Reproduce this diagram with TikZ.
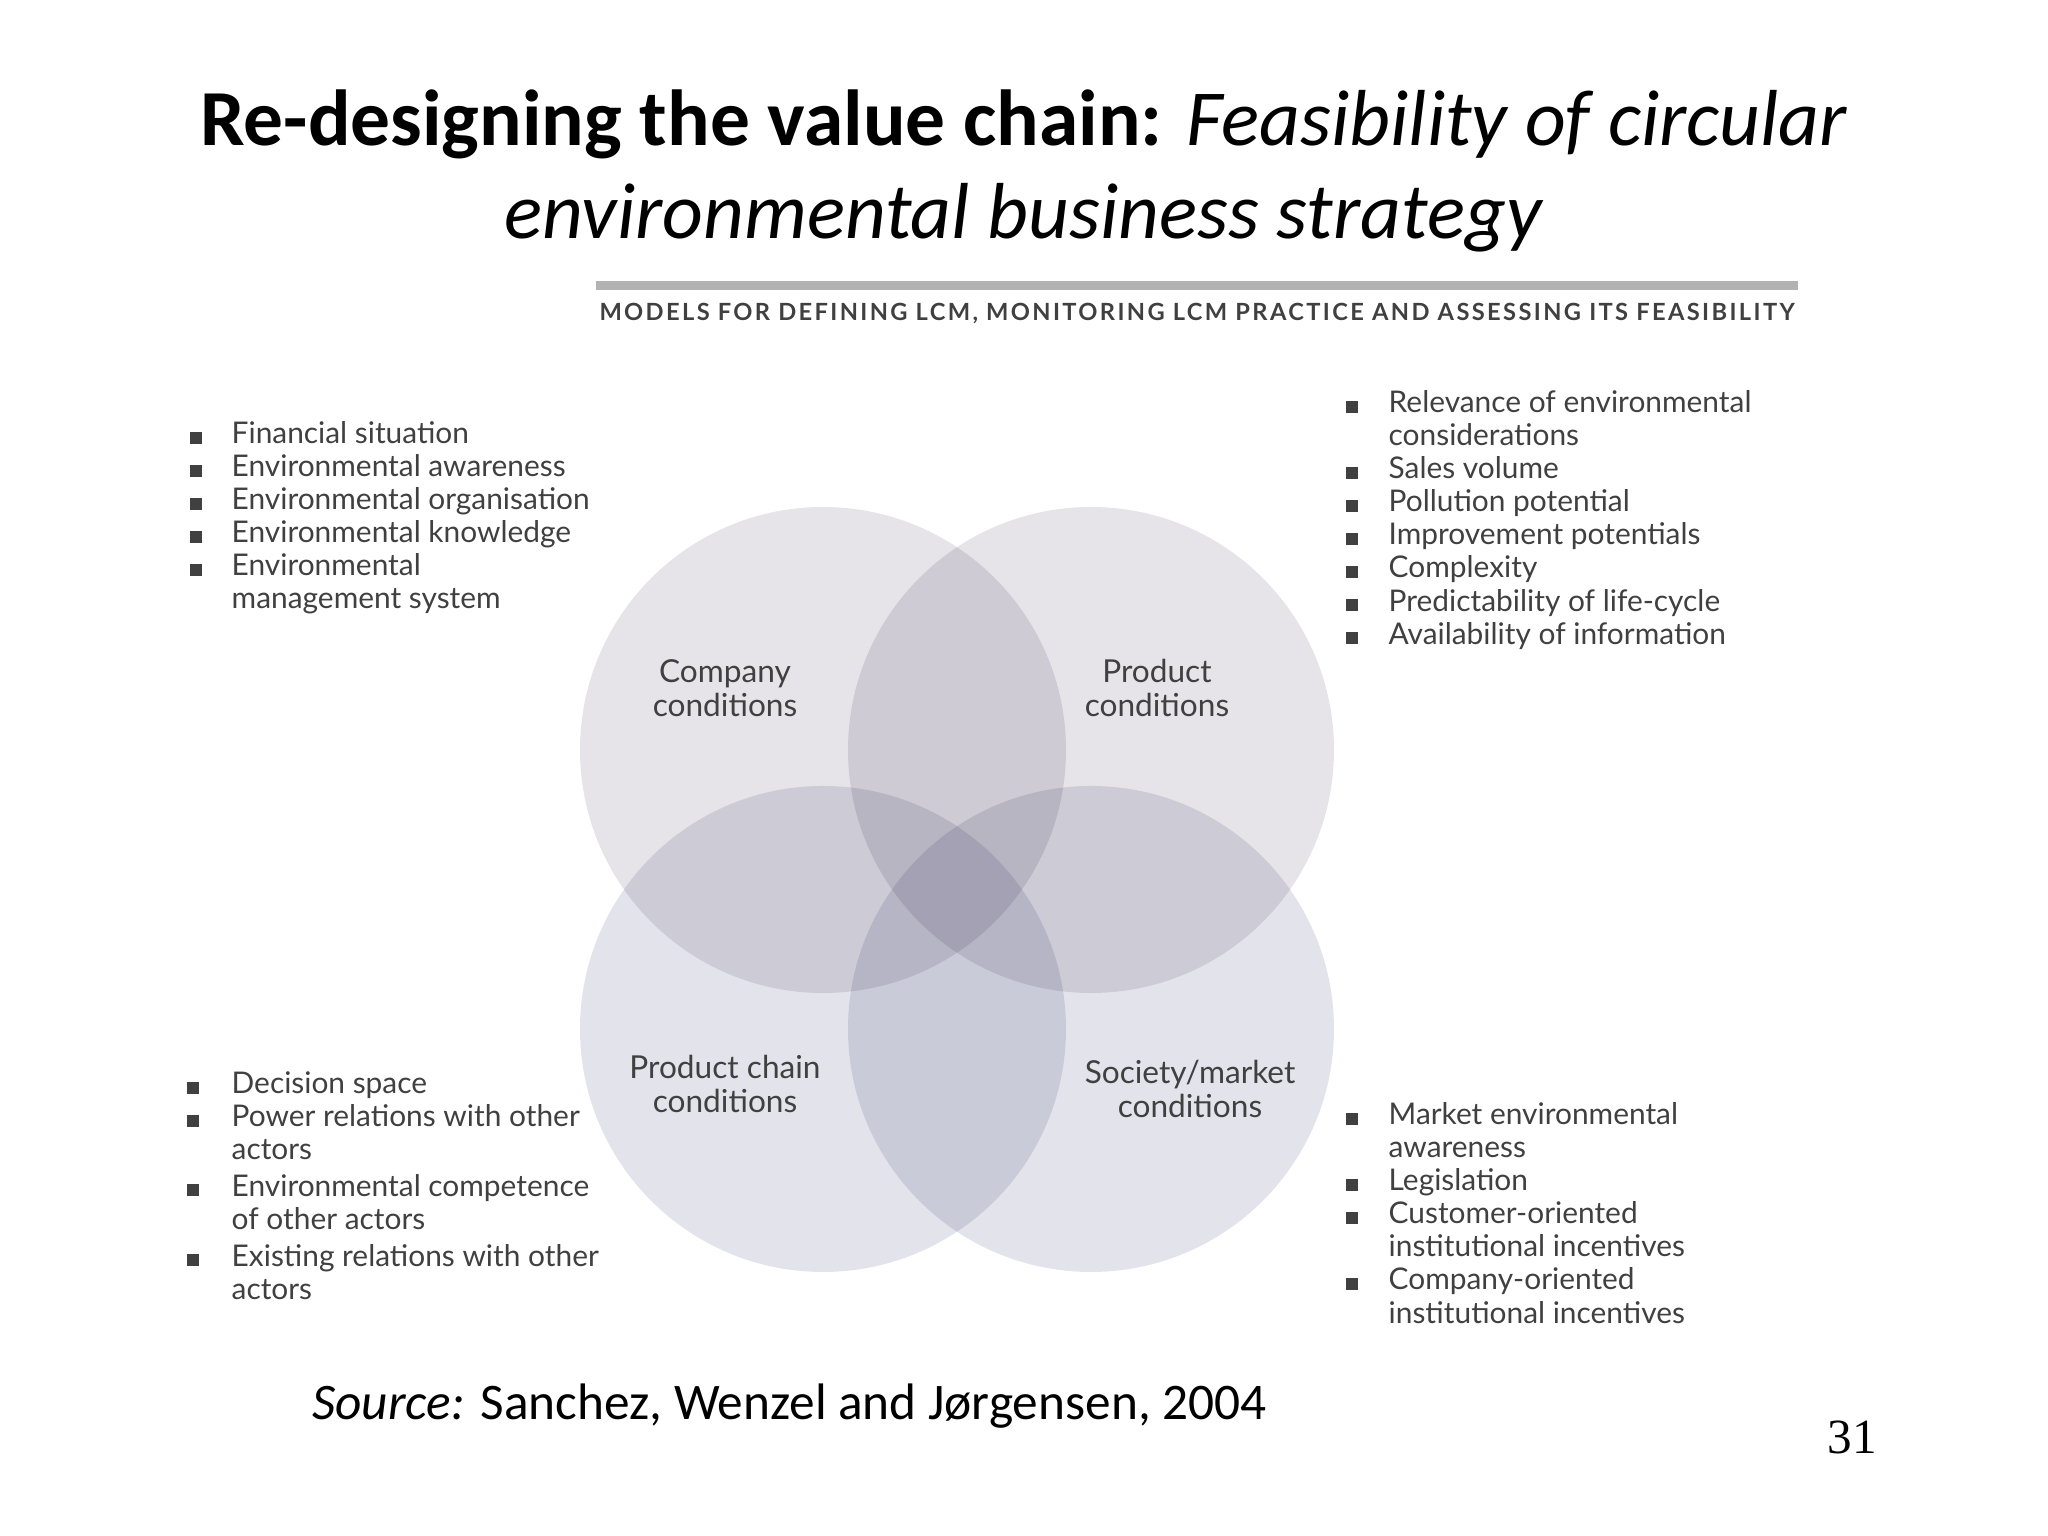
\documentclass[tikz,border=0pt]{standalone}
\usepackage{fontspec}
\setmainfont{Carlito}
\newfontfamily\listfont{Lato}
\newfontfamily\numfont{Liberation Serif}
\newcommand\blt{\rule{0.8ex}{0.8ex}}
\begin{document}
\begin{tikzpicture}
\useasboundingbox (0,0) rectangle (20.48,15.36);
\tikzset{
 circ/.style={fill=#1, draw=none},
 lst/.style={anchor=north west, inner sep=0pt, text=black!75, font=\listfont\fontsize{8.5}{9.4}\selectfont},
 clabel/.style={align=center, text=black!75, font=\listfont\fontsize{9}{9.6}\selectfont}
}
\definecolor{cg}{RGB}{230,228,233}
\definecolor{cb}{RGB}{227,228,235}
% title
\node (t1) at (10.24,14.12) {\fontsize{22.6}{27}\selectfont\textbf{Re-designing the value chain:} \textit{Feasibility of circular}};
\node (t2) at (10.24,13.18) {\fontsize{22.6}{27}\selectfont\textit{environmental business strategy}};
\fill[black!30] (5.96,12.46) rectangle (17.98,12.55);
\node (hd) at (11.97,12.22) {\resizebox{11.95cm}{!}{\listfont\addfontfeature{LetterSpace=10}\bfseries\color{black!75}MODELS FOR DEFINING LCM, MONITORING LCM PRACTICE AND ASSESSING ITS FEASIBILITY}};
% circles
\begin{scope}[blend mode=multiply]
\fill[circ=cg] (8.23,7.86) circle (2.43);
\fill[circ=cg] (10.91,7.86) circle (2.43);
\fill[circ=cb] (8.23,5.07) circle (2.43);
\fill[circ=cb] (10.91,5.07) circle (2.43);
\end{scope}
\node[clabel] (c1) at (7.25,8.48) {Company\\conditions};
\node[clabel] (c2) at (11.57,8.48) {Product\\conditions};
\node[clabel] (c3) at (7.25,4.52) {Product chain\\conditions};
\node[clabel] (c4) at (11.90,4.47) {Society/market\\conditions};
% lists
\node[lst] (l1) at (1.89,11.16) {\begin{tabular}{@{}p{0.42cm}@{}l@{}}
\blt & Financial situation\\
\blt & Environmental awareness\\
\blt & Environmental organisation\\
\blt & Environmental knowledge\\
\blt & Environmental\\
 & management system
\end{tabular}};
\node[lst] (l2) at (13.45,11.47) {\begin{tabular}{@{}p{0.43cm}@{}l@{}}
\blt & Relevance of environmental\\
 & considerations\\
\blt & Sales volume\\
\blt & Pollution potential\\
\blt & Improvement potentials\\
\blt & Complexity\\
\blt & Predictability of life-cycle\\
\blt & Availability of information
\end{tabular}};
\node[lst] (l3) at (1.86,4.66) {\begin{tabular}{@{}p{0.45cm}@{}l@{}}
\blt & Decision space\\
\blt & Power relations with other\\
 & actors\\[1pt]
\blt & Environmental competence\\
 & of other actors\\[1pt]
\blt & Existing relations with other\\
 & actors
\end{tabular}};
\node[lst] (l4) at (13.45,4.35) {\begin{tabular}{@{}p{0.43cm}@{}l@{}}
\blt & Market environmental\\
 & awareness\\
\blt & Legislation\\
\blt & Customer-oriented\\
 & institutional incentives\\
\blt & Company-oriented\\
 & institutional incentives
\end{tabular}};
\node[anchor=west] (src) at (3.0,1.30) {\fontsize{14.6}{18}\selectfont\textit{Source:} Sanchez, Wenzel and Jørgensen, 2004};
\node (pg) at (18.52,0.99) {\numfont\fontsize{14}{16}\selectfont 31};
\end{tikzpicture}
\end{document}
